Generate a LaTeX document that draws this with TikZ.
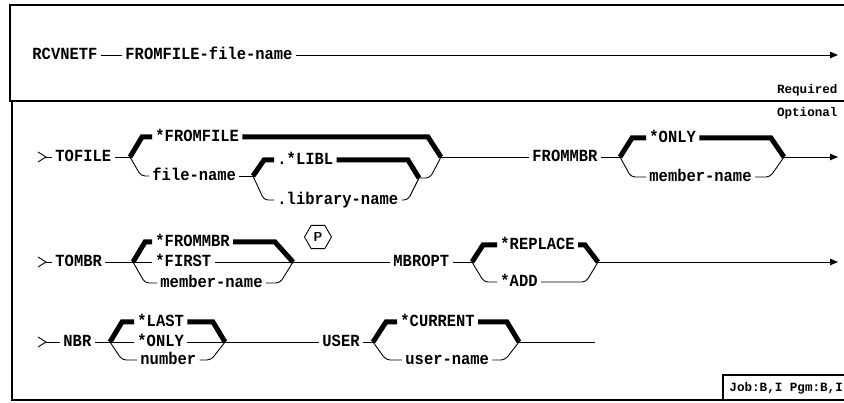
\documentclass[tikz,border=0pt]{standalone}
\usepackage{fontspec}
\usepackage{tikz}
\usetikzlibrary{positioning, arrows.meta, shapes.geometric}
\newfontfamily\syntaxfont{Liberation Mono}[FakeStretch=0.91]
\newfontfamily\notefont{Liberation Mono}
\tikzset{
  kw/.style={font=\syntaxfont\bfseries\fontsize{17}{18}\selectfont, inner xsep=3pt, inner ysep=0pt, text height=9.7pt, text depth=0pt, anchor=west},
  note/.style={font=\notefont\bfseries\fontsize{12.6}{14}\selectfont, inner sep=0pt, text height=7.2pt, text depth=0pt},
  dflt/.style={line width=5pt, line join=miter},
  alt/.style={rounded corners=4pt},
  ruleline/.style={line width=1.5pt},
  endarrow/.style={-{Triangle[length=8pt,width=6.5pt]}},
}

\begin{document}
\begin{tikzpicture}[x=1pt, y=-1pt, line width=0.9pt]
    \useasboundingbox (0,0) rectangle (844,403);
    \draw[ruleline] (844,5) -- (10,5) -- (10,101) -- (844,101);
    \draw[ruleline] (12,101) -- (12,400) -- (844,400);
    \draw[line width=1.1pt] (723,400) -- (723,375) -- (844,375);

    % required parameter
    \node[kw] (rcvnetf) at (29,55) {RCVNETF};
    \node[kw] (fromfile1) at (122,55) {FROMFILE-file-name};
    \coordinate (end1) at (838,55);
    \draw (rcvnetf) -- (fromfile1);
    \draw[endarrow] (fromfile1) -- (end1);
    \node[note, anchor=east] (required) at (838,90) {Required};
    \node[note, anchor=east] (optional) at (838,113) {Optional};

    % TOFILE / FROMMBR
    \coordinate (s1) at (46,157);
    \node[kw] (tofile) at (52,157) {TOFILE};
    \coordinate (j1) at (130,157);
    \node[kw] (fromfile) at (152,137) {*FROMFILE};
    \node[kw] (filename) at (149,176) {file-name};
    \coordinate (j2) at (253,176);
    \node[kw] (libl) at (274,160) {.*LIBL};
    \node[kw] (libname) at (274,200) {.library-name};
    \coordinate (r2) at (419,178);
    \coordinate (r1) at (441,157);
    \node[kw] (frommbr) at (529,157) {FROMMBR};
    \coordinate (j3) at (620,157);
    \node[kw] (only1) at (646,138) {*ONLY};
    \node[kw] (mbrname1) at (646,177) {member-name};
    \coordinate (r3) at (784,157);
    \coordinate (end2) at (838,157);
    \draw ([shift={(-8,-5)}]s1) -- (s1) -- ([shift={(-8,5)}]s1);
    \draw (s1) -- (tofile.west);
    \draw (tofile.east) -- (j1);
    \draw[dflt] (j1) -- (142,137) -- (fromfile.west);
    \draw[alt] (j1) -- (141,176) -- (filename.west);
    \draw (filename.east) -- (j2);
    \draw[dflt] (j2) -- (264,160) -- (libl.west);
    \draw[alt] (j2) -- (264,200) -- (libname.west);
    \draw[dflt] (libl.east) -- (408,160) -- (r2);
    \draw[alt] (libname.east) -- (408,200) -- (r2);
    \draw[alt] (r2) -- (430,178) -- (r1);
    \draw[dflt] (fromfile.east) -- (428,137) -- (r1);
    \draw (r1) -- (frommbr.west);
    \draw (frommbr.east) -- (j3);
    \draw[dflt] (j3) -- (632,138) -- (only1.west);
    \draw[alt] (j3) -- (631,177) -- (mbrname1.west);
    \draw[dflt] (only1.east) -- (771,138) -- (r3);
    \draw[alt] (mbrname1.east) -- (770,177) -- (r3);
    \draw[endarrow] (r3) -- (end2);

    % TOMBR / MBROPT
    \coordinate (s2) at (46,262);
    \node[kw] (tombr) at (52,262) {TOMBR};
    \coordinate (j4) at (133,262);
    \node[kw] (frommbr2) at (152,242) {*FROMMBR};
    \node[kw] (first) at (152,262) {*FIRST};
    \node[kw] (mbrname2) at (157,283) {member-name};
    \coordinate (r4) at (293,262);
    \node[draw, regular polygon, regular polygon sides=6, minimum size=27pt, inner sep=0pt,
          font=\sffamily\bfseries\fontsize{13}{13}\selectfont] (pmark) at (318,237) {P};
    \node[kw] (mbropt) at (390,262) {MBROPT};
    \coordinate (j5) at (472,262);
    \node[kw] (replace) at (497,245) {*REPLACE};
    \node[kw] (add) at (497,282) {*ADD};
    \coordinate (r5) at (598,262);
    \coordinate (end3) at (838,262);
    \draw ([shift={(-8,-5)}]s2) -- (s2) -- ([shift={(-8,5)}]s2);
    \draw (s2) -- (tombr.west);
    \draw (tombr.east) -- (j4);
    \draw[dflt] (j4) -- (145,242) -- (frommbr2.west);
    \draw (j4) -- (first.west);
    \draw[alt] (j4) -- (145,283) -- (mbrname2.west);
    \draw[dflt] (frommbr2.east) -- (275,242) -- (r4);
    \draw (first.east) -- (r4);
    \draw[alt] (mbrname2.east) -- (280,283) -- (r4);
    \draw (r4) -- (mbropt.west);
    \draw (mbropt.east) -- (j5);
    \draw[dflt] (j5) -- (483,245) -- (replace.west);
    \draw[alt] (j5) -- (484,282) -- (add.west);
    \draw[dflt] (replace.east) -- (585,245) -- (r5);
    \draw[alt] (add.east) -- (586,282) -- (r5);
    \draw[endarrow] (r5) -- (end3);

    % NBR / USER
    \coordinate (s3) at (46,342);
    \node[kw] (nbr) at (60,342) {NBR};
    \coordinate (j6) at (110,342);
    \node[kw] (last) at (134,322) {*LAST};
    \node[kw] (only2) at (134,342) {*ONLY};
    \node[kw] (number) at (137,360) {number};
    \coordinate (r6) at (225,342);
    \node[kw] (user) at (319,342) {USER};
    \coordinate (j7) at (373,342);
    \node[kw] (current) at (397,322) {*CURRENT};
    \node[kw] (username) at (402,360) {user-name};
    \coordinate (r7) at (519,342);
    \coordinate (end4) at (595,342);
    \draw ([shift={(-8,-5)}]s3) -- (s3) -- ([shift={(-8,5)}]s3);
    \draw (s3) -- (nbr.west);
    \draw (nbr.east) -- (j6);
    \draw[dflt] (j6) -- (122,322) -- (last.west);
    \draw (j6) -- (only2.west);
    \draw[alt] (j6) -- (122,360) -- (number.west);
    \draw[dflt] (last.east) -- (213,322) -- (r6);
    \draw (only2.east) -- (r6);
    \draw[alt] (number.east) -- (211,360) -- (r6);
    \draw (r6) -- (user.west);
    \draw (user.east) -- (j7);
    \draw[dflt] (j7) -- (386,322) -- (current.west);
    \draw[alt] (j7) -- (386,360) -- (username.west);
    \draw[dflt] (current.east) -- (507,322) -- (r7);
    \draw[alt] (username.east) -- (505,360) -- (r7);
    \draw (r7) -- (end4);

    \node[note, anchor=west] (jobpgm) at (729,388) {Job:B,I Pgm:B,I};
\end{tikzpicture}
\end{document}
